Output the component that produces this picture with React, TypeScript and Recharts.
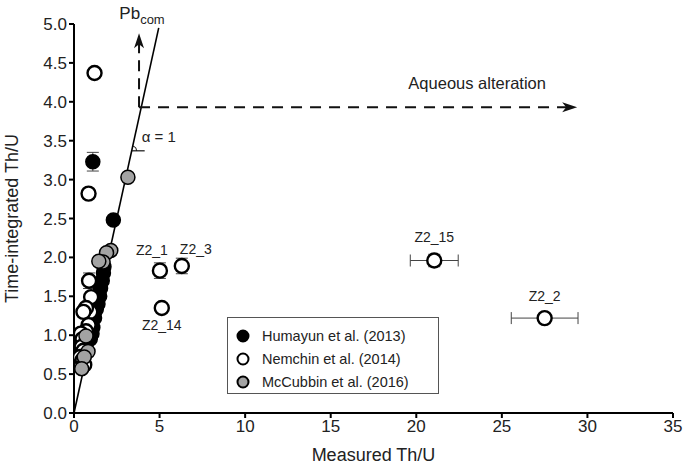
import React from "react"
import {
  ScatterChart,
  Scatter,
  XAxis,
  YAxis,
  ErrorBar,
  ReferenceLine,
  ReferenceDot,
  LabelList,
} from "recharts"

const FONT = "'Liberation Sans', Arial, Helvetica, sans-serif"

// Humayun et al. (2013)
const humayun = [
  { x: 1.1, y: 3.23, ey: 0.12 },
  { x: 2.3, y: 2.48 },
  { x: 1.75, y: 1.88 },
  { x: 1.72, y: 1.8 },
  { x: 1.65, y: 1.7 },
  { x: 1.55, y: 1.6 },
  { x: 1.5, y: 1.5 },
  { x: 1.4, y: 1.4 },
  { x: 1.3, y: 1.33 },
  { x: 1.2, y: 1.22 },
  { x: 1.1, y: 1.1 },
  { x: 1.05, y: 1.02 },
  { x: 0.95, y: 0.95 },
]

// Nemchin et al. (2014)
const nemchin = [
  { x: 1.2, y: 4.37 },
  { x: 0.85, y: 2.82 },
  { x: 0.88, y: 1.7, ey: 0.1 },
  { x: 1.0, y: 1.49 },
  { x: 0.95, y: 1.3 },
  { x: 0.7, y: 1.35 },
  { x: 0.55, y: 1.3 },
  { x: 0.85, y: 1.13 },
  { x: 0.7, y: 1.05 },
  { x: 0.4, y: 1.02 },
  { x: 0.5, y: 0.95 },
  { x: 0.45, y: 0.85 },
  { x: 0.55, y: 0.8 },
  { x: 0.35, y: 0.72 },
  { x: 0.5, y: 0.68 },
  { x: 0.6, y: 0.62 },
  { x: 5.02, y: 1.83, ey: 0.1, label: "Z2_1" },
  { x: 6.3, y: 1.89, ey: 0.1, label: "Z2_3" },
  { x: 5.13, y: 1.35, label: "Z2_14" },
  { x: 21.05, y: 1.96, ex: 1.4, ey: 0.08, label: "Z2_15" },
  { x: 27.5, y: 1.22, ex: 1.95, label: "Z2_2" },
]

// McCubbin et al. (2016)
const mccubbin = [
  { x: 3.15, y: 3.03 },
  { x: 2.15, y: 2.09 },
  { x: 1.9, y: 2.06 },
  { x: 1.7, y: 1.94 },
  { x: 1.45, y: 1.95 },
  { x: 0.7, y: 0.99 },
  { x: 0.82, y: 0.79 },
  { x: 0.6, y: 0.72 },
  { x: 0.45, y: 0.57 },
]

const xTicks = [0, 5, 10, 15, 20, 25, 30, 35]
const yTicks = [0, 0.5, 1, 1.5, 2, 2.5, 3, 3.5, 4, 4.5, 5]

// alpha = 1 line and arrow annotations
const oneToOne = [{ x: 0, y: 0 }, { x: 4.95, y: 4.95 }]
const pbArrow = { x: 3.8, y0: 3.93, tip: 4.88 }
const aqArrow = { y: 3.93, x0: 3.8, tip: 29.4 }

const labelOffsets: Record<string, [number, number]> = {
  Z2_1: [-8, -21],
  Z2_3: [14, -17],
  Z2_14: [0, 17],
  Z2_15: [0, -24],
  Z2_2: [0, -22],
}

const dot = (fill: string, sw: number) => (p: any) => (
  <circle cx={p.cx} cy={p.cy} r={7} fill={fill} stroke="#000" strokeWidth={sw} />
)

const pointLabel = (p: any) => {
  if (!p.value) return null
  const cx = p.x + (p.width || 0) / 2
  const cy = p.y + (p.height || 0) / 2
  const [dx, dy] = labelOffsets[p.value] || [0, -20]
  return (
    <text x={cx + dx} y={cy + dy} textAnchor="middle" dominantBaseline="central" fontSize={14} fontFamily={FONT} fill="#222">
      {p.value}
    </text>
  )
}

const legendItems = [
  { name: "Humayun et al. (2013)", fill: "#000" },
  { name: "Nemchin et al. (2014)", fill: "#fff" },
  { name: "McCubbin et al. (2016)", fill: "#a3a3a3" },
]

export default function App() {
  return (
    <div style={{ position: "absolute", left: 0, top: 0, width: 685, height: 470, background: "#fff", fontFamily: FONT }}>
      <ScatterChart width={685} height={470} margin={{ top: 24, right: 12, bottom: 0, left: 0 }}>
        <XAxis
          type="number"
          dataKey="x"
          domain={[0, 35]}
          ticks={xTicks}
          allowDataOverflow
          stroke="#000"
          strokeWidth={2}
          tickSize={5}
          height={57}
          tick={{ fontSize: 17, fill: "#222", fontFamily: FONT }}
          label={{ value: "Measured Th/U", position: "insideBottom", offset: 9, fontSize: 18, fill: "#222", fontFamily: FONT }}
        />
        <YAxis
          type="number"
          dataKey="y"
          domain={[0, 5]}
          ticks={yTicks}
          allowDataOverflow
          stroke="#000"
          strokeWidth={2}
          tickSize={5}
          width={74}
          tickFormatter={(v: number) => v.toFixed(1)}
          tick={{ fontSize: 17, fill: "#222", fontFamily: FONT }}
          label={{ value: "Time-integrated Th/U", angle: -90, position: "center", dx: -25, fontSize: 18, fill: "#222", fontFamily: FONT }}
        />
        <ReferenceLine segment={oneToOne} stroke="#000" strokeWidth={1.6} />
        <ReferenceLine
          segment={[{ x: pbArrow.x, y: pbArrow.y0 }, { x: pbArrow.x, y: pbArrow.tip - 0.12 }]}
          stroke="#111"
          strokeWidth={2}
          strokeDasharray="11 7"
        />
        <ReferenceLine
          segment={[{ x: aqArrow.x0, y: aqArrow.y }, { x: aqArrow.tip - 0.5, y: aqArrow.y }]}
          stroke="#111"
          strokeWidth={2}
          strokeDasharray="11 8"
        />
        <ReferenceDot
          x={pbArrow.x}
          y={pbArrow.tip}
          r={0}
          shape={(p: any) => (
            <g>
              <path d={`M${p.cx},${p.cy} L${p.cx - 5},${p.cy + 15} L${p.cx},${p.cy + 11} L${p.cx + 5},${p.cy + 15} Z`} fill="#111" />
              <text x={p.cx + 3} y={p.cy - 14} textAnchor="middle" fontSize={17} fontFamily={FONT} fill="#222">
                Pb<tspan fontSize={13} dy={5}>com</tspan>
              </text>
            </g>
          )}
        />
        <ReferenceDot
          x={aqArrow.tip}
          y={aqArrow.y}
          r={0}
          shape={(p: any) => (
            <g>
              <path d={`M${p.cx},${p.cy} L${p.cx - 15},${p.cy - 5} L${p.cx - 11},${p.cy} L${p.cx - 15},${p.cy + 5} Z`} fill="#111" />
              <text x={p.cx - 100} y={p.cy - 18} textAnchor="middle" fontSize={16.5} fontFamily={FONT} fill="#222">
                Aqueous alteration
              </text>
            </g>
          )}
        />
        <ReferenceDot
          x={3.37}
          y={3.37}
          r={0}
          shape={(p: any) => (
            <g>
              <line x1={p.cx} y1={p.cy} x2={p.cx + 13} y2={p.cy} stroke="#111" strokeWidth={1.2} />
              <path d={`M${p.cx + 5},${p.cy} A5,5 0 0 0 ${p.cx + 1.1},${p.cy - 4.9}`} fill="none" stroke="#111" strokeWidth={1} />
              <text x={p.cx + 10} y={p.cy - 14} fontSize={15} fontFamily={FONT} fill="#222" dominantBaseline="central">
                α = 1
              </text>
            </g>
          )}
        />
        <Scatter data={humayun} shape={dot("#000", 1.5)} isAnimationActive={false}>
          <ErrorBar dataKey="ey" direction="y" width={6} stroke="#444" strokeWidth={1} />
        </Scatter>
        <Scatter data={nemchin} shape={dot("#fff", 2.4)} isAnimationActive={false}>
          <ErrorBar dataKey="ey" direction="y" width={6} stroke="#444" strokeWidth={1} />
          <ErrorBar dataKey="ex" direction="x" width={6} stroke="#444" strokeWidth={1} />
          <LabelList dataKey="label" content={pointLabel} />
        </Scatter>
        <Scatter data={mccubbin} shape={dot("#a3a3a3", 1.5)} isAnimationActive={false} />
      </ScatterChart>
      <div
        style={{
          position: "absolute",
          left: 227,
          top: 317,
          width: 212,
          height: 77,
          border: "1px solid #555",
          background: "#fff",
          boxSizing: "border-box",
          padding: "6px 0 0 8px",
        }}
      >
        {legendItems.map((it) => (
          <div key={it.name} style={{ display: "flex", alignItems: "center", height: 23, fontSize: 14.5, color: "#222" }}>
            <svg width={14} height={14} style={{ marginRight: 12 }}>
              <circle cx={7} cy={7} r={5.5} fill={it.fill} stroke="#000" strokeWidth={2} />
            </svg>
            {it.name}
          </div>
        ))}
      </div>
    </div>
  )
}
